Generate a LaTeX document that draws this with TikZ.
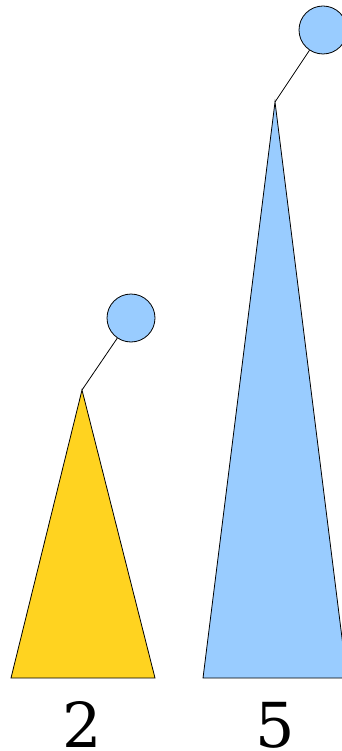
\documentclass[tikz,border=0pt]{standalone}
\usepackage{fontspec}
\setmainfont{DejaVu Serif}
\definecolor{yel}{HTML}{FFD320}
\definecolor{lblue}{HTML}{99CCFF}
\begin{document}
\begin{tikzpicture}[x=1pt,y=-1pt,
  tri/.style={draw=black,line width=0.8pt,line join=miter},
  ball/.style={circle,draw=black,line width=0.8pt,fill=lblue,minimum size=48pt,inner sep=0pt},
  lbl/.style={font=\fontsize{62}{62}\selectfont,inner sep=0pt}]
\useasboundingbox (0,0) rectangle (342,751);
\clip (0,0) rectangle (342,751);
\coordinate (ya) at (82,390);
\coordinate (ba) at (275,102);
\fill[yel] (11,678) -- (ya) -- (155,678) -- cycle;
\draw[tri] (11,678) -- (ya) -- (155,678) -- cycle;
\fill[lblue] (203,678) -- (ba) -- (347,678) -- cycle;
\draw[tri] (203,678) -- (ba) -- (347,678) -- cycle;
\node[ball] (c1) at (131,318) {};
\node[ball] (c2) at (323,30) {};
\draw[line width=0.8pt] (ya) -- (c1);
\draw[line width=0.8pt] (ba) -- (c2);
\node[lbl,anchor=base] (t2) at (82,747) {2};
\node[lbl,anchor=base] (t5) at (275,747) {5};
\end{tikzpicture}
\end{document}
